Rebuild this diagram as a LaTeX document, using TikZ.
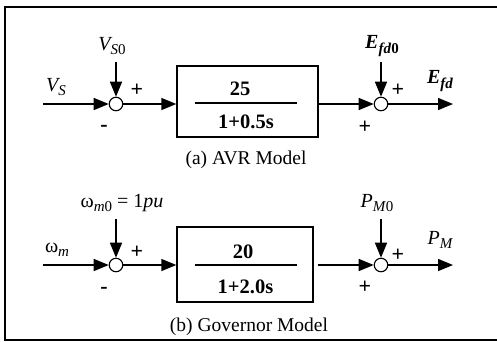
\documentclass[tikz,border=0pt]{standalone}
\usepackage{fontspec}
\setmainfont{Liberation Serif}
\usetikzlibrary{arrows.meta}
\newcommand\lsub[1]{\raisebox{-0.45ex}{\fontsize{15}{15}\selectfont #1}}
\begin{document}
\begin{tikzpicture}[x=1pt,y=-1pt,
  sig/.style={line width=1.5pt},
  arr/.style={sig,-{Triangle[length=15pt,width=12pt]}},
  sumnode/.style={circle,draw,line width=1.1pt,fill=white,minimum size=13.5pt,inner sep=0pt},
  blk/.style={draw,line width=1.4pt,inner sep=0pt},
  num/.style={font=\fontsize{20.5}{20.5}\selectfont\bfseries,anchor=base,inner sep=0pt},
  lab/.style={font=\fontsize{20}{20}\selectfont\itshape,inner sep=0pt},
  sgn/.style={font=\fontsize{22}{22}\selectfont\bfseries,inner sep=0pt},
  captxt/.style={font=\fontsize{19.5}{19.5}\selectfont,inner sep=0pt}]
\useasboundingbox (0,0) rectangle (497,341);
% frame
\draw[line width=1.6pt] (499,7) -- (5,7) -- (5,340) -- (499,340);

% ===== AVR model =====
\coordinate (in1) at (43,104);
\coordinate (top1) at (116,62);
\coordinate (top2) at (381,62);
\coordinate (out1) at (453,104);
\node[sumnode] (s1) at (116,104) {};
\node[sumnode] (s2) at (381,104) {};
\node[blk,minimum width=141pt,minimum height=71pt] (b1) at (247.5,101.5) {};
\draw[line width=1.2pt] (195,103) -- (297,103);
\node[num] (n1) at (240,95) {25};
\node[num] (d1) at (246,128) {1+0.5s};
\node[captxt] (c1) at (246,160) {(a) AVR Model};

\draw[arr] (in1) -- (s1);
\draw[arr] (top1) -- (s1);
\draw[arr] (s1) -- (s1 -| b1.west);
\draw[arr] (b1.east |- s2) -- (s2);
\draw[arr] (top2) -- (s2);
\draw[arr] (s2) -- (out1);

\node[lab] (lvs) at (56,87) {V\lsub{S}};
\node[lab] (lvs0) at (112,46) {V\lsub{S\textup{0}}};
\node[lab,font=\fontsize{20}{20}\selectfont\bfseries\itshape] (lef0) at (382,46) {E\lsub{\textit{fd}\textup{0}}};
\node[lab,font=\fontsize{20}{20}\selectfont\bfseries\itshape] (lef) at (440,81) {E\lsub{\textit{fd}}};
\node[sgn] (p1) at (137,90) {+};
\node[sgn] (m1) at (104,128) {-};
\node[sgn] (p2) at (398,90) {+};
\node[sgn] (p3) at (365,127) {+};

% ===== Governor model =====
\coordinate (in2) at (43,265);
\coordinate (top3) at (116,219);
\coordinate (top4) at (381,219);
\coordinate (out2) at (453,265);
\node[sumnode] (s3) at (116,265) {};
\node[sumnode] (s4) at (381,265) {};
\node[blk,minimum width=136pt,minimum height=75pt] (b2) at (245,264.5) {};
\draw[line width=1.2pt] (195,265) -- (297,265);
\node[num] (n2) at (243,258) {20};
\node[num] (d2) at (245.5,293) {1+2.0s};
\node[captxt] (c2) at (249,327) {(b) Governor Model};

\draw[arr] (in2) -- (s3);
\draw[arr] (top3) -- (s3);
\draw[arr] (s3) -- (s3 -| b2.west);
\draw[arr] ([xshift=4pt]b2.east |- s4) -- (s4);
\draw[arr] (top4) -- (s4);
\draw[arr] (s4) -- (out2);

\node[lab] (lwm) at (57,250) {\textup{ω}\lsub{m}};
\node[lab] (lwm0) at (122,203) {\textup{ω}\lsub{m\textup{0}} \textup{= 1}pu};
\node[lab] (lpm0) at (377,203) {P\lsub{M\textup{0}}};
\node[lab] (lpm) at (440,240) {P\lsub{M}};
\node[sgn] (p4) at (137,252) {+};
\node[sgn] (m2) at (104,290) {-};
\node[sgn] (p5) at (398,255) {+};
\node[sgn] (p6) at (365,287) {+};
\end{tikzpicture}
\end{document}
